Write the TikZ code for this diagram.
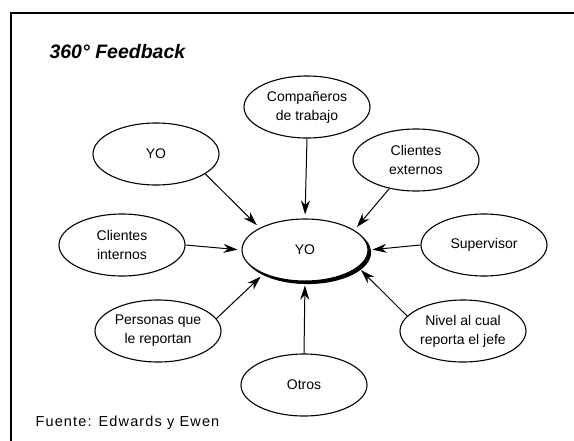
\documentclass[tikz,border=0pt]{standalone}
\usepackage{fontspec}
\setmainfont{Liberation Sans}
\usetikzlibrary{arrows.meta,shapes.geometric,positioning}

\begin{document}
\begin{tikzpicture}[x=1pt, y=-1pt, >={Stealth[length=14pt,width=9pt]},
		globo/.style={draw, ellipse, line width=1.1pt, fill=white, minimum width=126pt, minimum height=62pt, inner sep=0pt, align=center, font=\fontsize{14}{19}\selectfont},
		flecha/.style={->, line width=1pt, shorten >=4pt}]
		\useasboundingbox (0,0) rectangle (574,440);
		\clip (0,0) rectangle (574,440);
		\draw[line width=1.4pt] (11,13) rectangle (590,460);
		\node (titulo) [anchor=base west, font=\fontsize{19.5}{23}\selectfont\bfseries\itshape] at (46,58) {360° Feedback};
		\node (fuente) [anchor=base west, font=\fontsize{14.5}{17}\selectfont\addfontfeature{LetterSpace=8}] at (32,426) {Fuente: Edwards y Ewen};
		% central node with its shadow
		\node (sombra) [globo, fill=black] at (307.5,252.5) {};
		\node (yo) [globo] at (305,250) {YO};
		\node (yoa) [globo] at (156,154) {YO};
		\node (comp) [globo] at (307,107) {Compañeros\\de trabajo};
		\node (ext) [globo] at (416,160) {Clientes\\externos};
		\node (int) [globo] at (122,245) {Clientes\\internos};
		\node (sup) [globo] at (484,245) {Supervisor};
		\node (pers) [globo] at (158,331) {Personas que\\le reportan};
		\node (niv) [globo] at (463,331) {Nivel al cual\\reporta el jefe};
		\node (otros) [globo] at (304,385) {Otros};
		\draw[flecha] (yoa.-22) -- (yo.154);
		\draw[flecha] (comp.south) -- (yo.north);
		\draw[flecha] (ext.-133) -- (yo.22);
		\draw[flecha] (int.east) -- (yo.west);
		\draw[flecha] (sup.west) -- (yo.east);
		\draw[flecha] (pers.12) -- (yo.-150);
		\draw[flecha] (otros.north) -- (yo.south);
		\draw[flecha] (niv.165) -- (yo.-18);
	\end{tikzpicture}
\end{document}
